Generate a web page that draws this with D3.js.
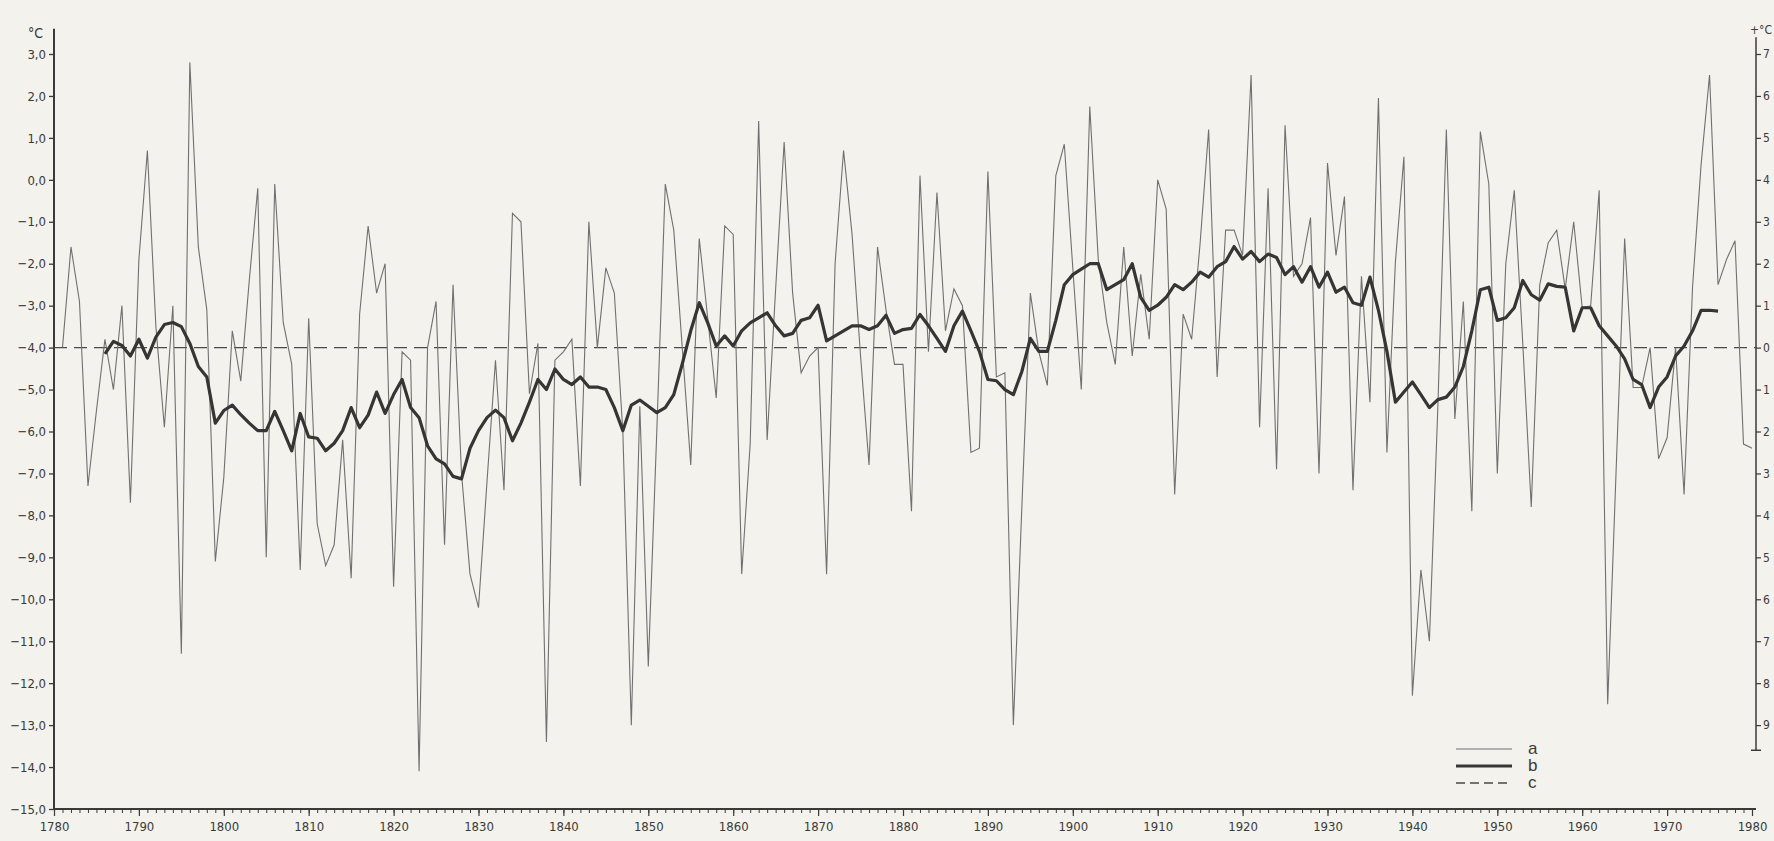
<!DOCTYPE html>
<html>
<head>
<meta charset="utf-8">
<script src="https://cdn.jsdelivr.net/npm/d3@7"></script>
<style>
  html, body { margin: 0; padding: 0; background: #f4f2ec; }
  svg { display: block; }
  text { font-family: "Liberation Sans Narrow", "DejaVu Sans Condensed", "Liberation Sans", sans-serif; fill: #3a3a3a; }
</style>
</head>
<body>
<svg id="chart" width="1774" height="841"></svg>
<script>
// a: yearly values, first year 1781
const firstYearA = 1781;
const valuesA = [
  -4.0, -1.6, -2.9, -7.3, -5.5, -3.8, -5.0, -3.0, -7.7, -1.9,
  0.7, -3.5, -5.9, -3.0, -11.3, 2.8, -1.6, -3.1, -9.1, -7.1,
  -3.6, -4.8, -2.4, -0.2, -9.0, -0.1, -3.4, -4.4, -9.3, -3.3,
  -8.2, -9.2, -8.7, -6.2, -9.5, -3.2, -1.1, -2.7, -2.0, -9.7,
  -4.1, -4.3, -14.1, -4.0, -2.9, -8.7, -2.5, -7.0, -9.4, -10.2,
  -7.2, -4.3, -7.4, -0.8, -1.0, -5.1, -3.9, -13.4, -4.3, -4.1,
  -3.8, -7.3, -1.0, -4.0, -2.1, -2.7, -6.0, -13.0, -5.4, -11.6,
  -6.0, -0.1, -1.2, -4.0, -6.8, -1.4, -3.3, -5.2, -1.1, -1.3,
  -9.4, -6.3, 1.4, -6.2, -2.6, 0.9, -2.7, -4.6, -4.2, -4.0,
  -9.4, -2.0, 0.7, -1.3, -4.2, -6.8, -1.6, -3.1, -4.4, -4.4,
  -7.9, 0.1, -4.1, -0.3, -3.6, -2.6, -3.0, -6.5, -6.4, 0.2,
  -4.7, -4.6, -13.0, -7.8, -2.7, -4.1, -4.9, 0.1, 0.85, -2.1,
  -5.0, 1.75, -1.9, -3.4, -4.4, -1.6, -4.2, -2.25, -3.8, 0.0,
  -0.7, -7.5, -3.2, -3.8, -1.5, 1.2, -4.7, -1.2, -1.2, -1.8,
  2.5, -5.9, -0.2, -6.9, 1.3, -2.3, -2.0, -0.9, -7.0, 0.4,
  -1.8, -0.4, -7.4, -2.3, -5.3, 1.95, -6.5, -1.95, 0.55, -12.3,
  -9.3, -11.0, -5.4, 1.2, -5.7, -2.9, -7.9, 1.15, -0.1, -7.0,
  -2.0, -0.25, -3.9, -7.8, -2.5, -1.5, -1.2, -2.6, -1.0, -3.05,
  -3.0, -0.25, -12.5, -6.9, -1.4, -4.95, -4.95, -4.0, -6.65, -6.15,
  -4.0, -7.5, -2.55, 0.35, 2.5, -2.5, -1.9, -1.45, -6.3, -6.4
];

// b: smoothed curve, first year 1786
const firstYearB = 1786;
const valuesB = [
  -4.15, -3.85, -3.95, -4.2, -3.8,
  -4.25, -3.75, -3.45, -3.4, -3.5, -3.9, -4.45, -4.7, -5.8, -5.5,
  -5.37, -5.6, -5.8, -5.98, -5.98, -5.52, -5.98, -6.46, -5.57, -6.13,
  -6.16, -6.46, -6.28, -5.98, -5.43, -5.91, -5.61, -5.06, -5.57, -5.12,
  -4.76, -5.43, -5.67, -6.34, -6.65, -6.77, -7.07, -7.13, -6.4, -5.98,
  -5.67, -5.49, -5.67, -6.22, -5.8, -5.3, -4.76, -5.0, -4.51, -4.76,
  -4.88, -4.7, -4.94, -4.94, -5.0, -5.43, -5.98, -5.37, -5.25, -5.4,
  -5.55, -5.43, -5.12, -4.39, -3.6, -2.93, -3.41, -3.96, -3.72, -3.96,
  -3.6, -3.41, -3.29, -3.17, -3.48, -3.72, -3.66, -3.35, -3.29, -2.99,
  -3.84, -3.72, -3.6, -3.48, -3.48, -3.57, -3.48, -3.23, -3.66, -3.57,
  -3.54, -3.21, -3.48, -3.78, -4.09, -3.48, -3.13, -3.6, -4.09, -4.76,
  -4.79, -5.0, -5.12, -4.57, -3.78, -4.09, -4.09, -3.35, -2.5, -2.26,
  -2.13, -2.0, -2.0, -2.62, -2.5, -2.38, -2.0, -2.8, -3.11, -2.99,
  -2.8, -2.5, -2.62, -2.44, -2.2, -2.32, -2.07, -1.95, -1.59, -1.89,
  -1.71, -1.95, -1.77, -1.85, -2.26, -2.07, -2.44, -2.07, -2.56, -2.2,
  -2.68, -2.56, -2.93, -2.99, -2.32, -3.11, -4.09, -5.3, -5.06, -4.82,
  -5.12, -5.43, -5.24, -5.18, -4.94, -4.45, -3.6, -2.62, -2.56, -3.35,
  -3.29, -3.05, -2.4, -2.74, -2.87, -2.48, -2.54, -2.56, -3.6, -3.05,
  -3.05, -3.48, -3.72, -3.96, -4.27, -4.76, -4.88, -5.43, -4.94, -4.7,
  -4.2, -3.96, -3.6, -3.11, -3.11, -3.13
];

// c: long-term mean
const meanLevel = -4.0;

const leftTicks = [3, 2, 1, 0, -1, -2, -3, -4, -5, -6, -7, -8, -9, -10, -11, -12, -13, -14, -15];
const rightTicks = [7, 6, 5, 4, 3, 2, 1, 0, -1, -2, -3, -4, -5, -6, -7, -8, -9];
const decadeTicks = [1780, 1790, 1800, 1810, 1820, 1830, 1840, 1850, 1860, 1870, 1880,
  1890, 1900, 1910, 1920, 1930, 1940, 1950, 1960, 1970, 1980];
const legendLabels = ["a", "b", "c"];

const svg = d3.select("#chart");
const ink = "#3a3a3a";
const plotRight = 1756;

const x = d3.scaleLinear().domain([1780, 1980]).range([54, 1752]);
const y = d3.scaleLinear().domain([-15, 3]).range([809, 54]);
// right axis: deviation from the mean
const yDev = d3.scaleLinear().domain([-15 - meanLevel, 3 - meanLevel]).range([809, 54]);

const dataA = valuesA.map((v, i) => ({ year: firstYearA + i, value: v }));
const dataB = valuesB.map((v, i) => ({ year: firstYearB + i, value: v }));

const fmt = (d) => (d < 0 ? "\u2212" : "") + Math.abs(d).toFixed(1).replace(".", ",");

// left axis
const left = svg.append("g")
  .attr("transform", `translate(${x(1780)},0)`)
  .call(d3.axisLeft(y).tickValues(leftTicks).tickFormat(fmt).tickSize(5).tickPadding(3).tickSizeOuter(0));
left.select(".domain").remove();
left.append("line").attr("y1", y(3.6)).attr("y2", y(-15)).attr("stroke", ink).attr("stroke-width", 2);
left.selectAll(".tick line").attr("stroke", ink).attr("stroke-width", 1.3);
left.selectAll(".tick text").style("font-size", "13px").attr("fill", ink);
svg.append("text").attr("x", 28).attr("y", 38).style("font-size", "14px").text("°C");

// right axis
const right = svg.append("g")
  .attr("transform", `translate(${plotRight},0)`)
  .call(d3.axisRight(yDev).tickValues(rightTicks).tickFormat((d) => Math.abs(d)).tickSize(5).tickPadding(2).tickSizeOuter(0));
right.select(".domain").remove();
right.append("line").attr("y1", yDev(7.4)).attr("y2", yDev(-9.6)).attr("stroke", ink).attr("stroke-width", 1.5);
right.append("line").attr("x1", -5).attr("x2", 5).attr("y1", yDev(-9.6)).attr("y2", yDev(-9.6)).attr("stroke", ink).attr("stroke-width", 1.5);
right.selectAll(".tick line").attr("stroke", ink).attr("stroke-width", 1.2);
right.selectAll(".tick text").style("font-size", "12px").attr("fill", ink);
svg.append("text").attr("x", 1772).attr("y", 34).attr("text-anchor", "end").style("font-size", "12px").text("+°C");

// bottom axis: yearly ticks + decade labels
const bottom = svg.append("g").attr("transform", `translate(0,${y(-15)})`);
bottom.append("line").attr("x1", x(1780)).attr("x2", plotRight).attr("stroke", ink).attr("stroke-width", 2);
bottom.append("g")
  .call(d3.axisBottom(x).tickValues(d3.range(1780, 1981)).tickSize(4).tickFormat("").tickSizeOuter(0))
  .call((g) => g.select(".domain").remove())
  .call((g) => g.selectAll(".tick line").attr("stroke", ink).attr("stroke-width", 1));
bottom.append("g")
  .call(d3.axisBottom(x).tickValues(decadeTicks).tickSize(7).tickPadding(6).tickFormat(d3.format("d")).tickSizeOuter(0))
  .call((g) => g.select(".domain").remove())
  .call((g) => g.selectAll(".tick line").attr("stroke", ink).attr("stroke-width", 1.2))
  .call((g) => g.selectAll(".tick text").style("font-size", "13px").attr("fill", ink));

// c: mean line
svg.append("line")
  .attr("x1", x(1780)).attr("x2", plotRight)
  .attr("y1", y(meanLevel)).attr("y2", y(meanLevel))
  .attr("stroke", "#4a4a4a").attr("stroke-width", 1.4)
  .attr("stroke-dasharray", "13,7");

const line = d3.line().x((d) => x(d.year)).y((d) => y(d.value));

// a: yearly values
svg.append("path").datum(dataA)
  .attr("d", line)
  .attr("fill", "none").attr("stroke", "#707070").attr("stroke-width", 1.1)
  .attr("stroke-linejoin", "miter");

// b: smoothed
svg.append("path").datum(dataB)
  .attr("d", line)
  .attr("fill", "none").attr("stroke", "#353535").attr("stroke-width", 3.2)
  .attr("stroke-linejoin", "round");

// legend
const legendStyles = [
  { w: 1.2, c: "#707070", dash: null },
  { w: 3.2, c: "#353535", dash: null },
  { w: 1.4, c: "#4a4a4a", dash: "9,5" }
];
const legend = svg.append("g").attr("transform", "translate(1456,749)");
legendLabels.forEach((lab, i) => {
  const s = legendStyles[i];
  legend.append("line")
    .attr("x1", 0).attr("x2", 56).attr("y1", i * 17).attr("y2", i * 17)
    .attr("stroke", s.c).attr("stroke-width", s.w)
    .attr("stroke-dasharray", s.dash);
  legend.append("text")
    .attr("x", 72).attr("y", i * 17 + 5)
    .style("font-size", "17px").style("font-family", "Liberation Sans, Arial, sans-serif")
    .text(lab);
});
</script>
</body>
</html>
